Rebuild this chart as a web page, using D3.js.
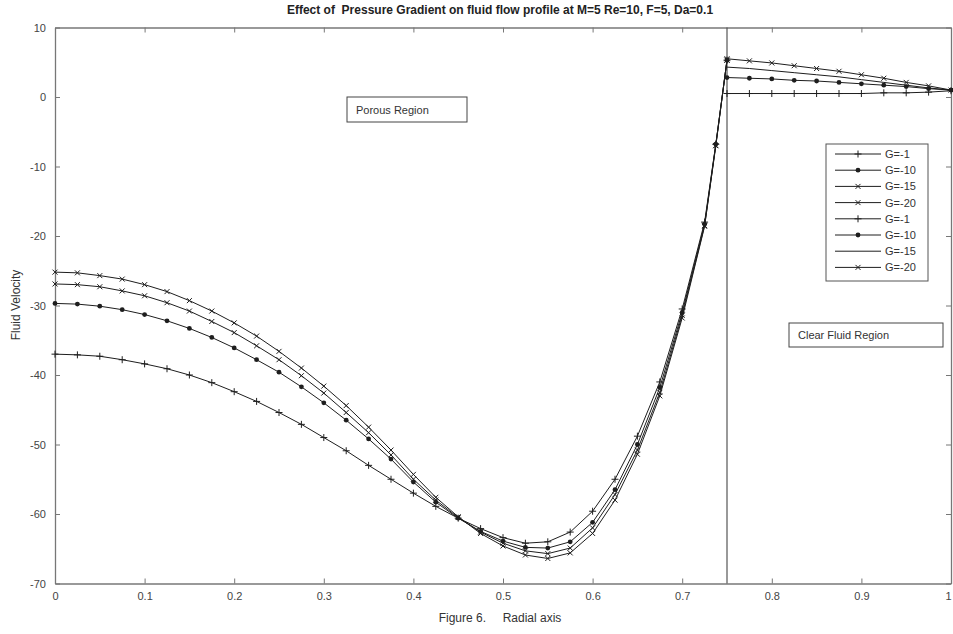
<!DOCTYPE html>
<html>
<head>
<meta charset="utf-8">
<script src="https://cdn.jsdelivr.net/npm/d3@7"></script>
<style>
  body { margin: 0; background: #fff; }
  svg { display: block; font-family: "Liberation Sans", Arial, sans-serif; }
</style>
</head>
<body>
<svg id="chart" width="953" height="634"></svg>
<script>
// porous region (0 .. 0.75)
const xPorous = [0, 0.025, 0.05, 0.075, 0.1, 0.125, 0.15, 0.175, 0.2, 0.225, 0.25, 0.275, 0.3, 0.325, 0.35, 0.375,
  0.4, 0.425, 0.45, 0.475, 0.5, 0.525, 0.55, 0.575, 0.6, 0.625, 0.65, 0.675, 0.7, 0.725, 0.7375, 0.75];
const porousG1 = [-37.0, -37.1, -37.3, -37.8, -38.4, -39.1, -40.0, -41.1, -42.4, -43.8, -45.4, -47.1, -49.0, -50.9, -53.0, -55.0,
  -57.0, -58.9, -60.6, -62.1, -63.4, -64.2, -64.0, -62.6, -59.6, -55.0, -48.8, -41.0, -30.5, -18.0, -6.8, 5.3];
const porousG10 = [-29.7, -29.8, -30.1, -30.6, -31.3, -32.2, -33.3, -34.6, -36.1, -37.8, -39.6, -41.7, -44.0, -46.5, -49.2, -52.1,
  -55.4, -58.3, -60.6, -62.5, -63.9, -64.8, -64.9, -64.0, -61.2, -56.5, -50.0, -41.8, -31.0, -18.3, -6.8, 5.3];
const porousG15 = [-26.9, -27.0, -27.3, -27.9, -28.6, -29.6, -30.8, -32.3, -33.9, -35.8, -37.8, -40.1, -42.6, -45.4, -48.3, -51.5,
  -55.0, -58.0, -60.5, -62.6, -64.2, -65.3, -65.7, -64.9, -62.0, -57.2, -50.8, -42.5, -31.4, -18.5, -7.0, 5.3];
const porousG20 = [-25.2, -25.3, -25.7, -26.2, -27.0, -28.0, -29.3, -30.8, -32.5, -34.4, -36.6, -39.0, -41.6, -44.4, -47.5, -50.8,
  -54.3, -57.6, -60.4, -62.8, -64.6, -65.9, -66.4, -65.6, -62.8, -58.0, -51.4, -43.0, -31.8, -18.6, -7.0, 5.3];

// clear fluid region (0.75 .. 1)
const xClear = [0.75, 0.775, 0.8, 0.825, 0.85, 0.875, 0.9, 0.925, 0.95, 0.975, 1];
const clearG1 = [0.5, 0.5, 0.5, 0.5, 0.5, 0.5, 0.5, 0.6, 0.6, 0.7, 0.9];
const clearG10 = [2.8, 2.7, 2.6, 2.4, 2.3, 2.1, 1.9, 1.7, 1.5, 1.2, 1.0];
const clearG15 = [4.3, 4.1, 3.8, 3.5, 3.2, 2.9, 2.5, 2.1, 1.7, 1.3, 1.0];
const clearG20 = [5.5, 5.2, 4.9, 4.5, 4.1, 3.7, 3.2, 2.7, 2.1, 1.6, 1.0];

const legendLabels = ['G=-1', 'G=-10', 'G=-15', 'G=-20', 'G=-1', 'G=-10', 'G=-15', 'G=-20'];
const xTicks = [0, 0.1, 0.2, 0.3, 0.4, 0.5, 0.6, 0.7, 0.8, 0.9, 1];
const yTicks = [-70, -60, -50, -40, -30, -20, -10, 0, 10];
const interfaceX = 0.75;

const series = [
  { xs: xPorous, ys: porousG1, marker: 'plus' },
  { xs: xPorous, ys: porousG10, marker: 'dot' },
  { xs: xPorous, ys: porousG15, marker: 'x' },
  { xs: xPorous, ys: porousG20, marker: 'x' },
  { xs: xClear, ys: clearG1, marker: 'plus' },
  { xs: xClear, ys: clearG10, marker: 'dot' },
  { xs: xClear, ys: clearG15, marker: 'none' },
  { xs: xClear, ys: clearG20, marker: 'x' }
];

const svg = d3.select('#chart');
const plotL = 55, plotR = 951, plotT = 27.5, plotB = 583.5;
const x = d3.scaleLinear().domain([0, 1]).range([plotL, plotR]);
const y = d3.scaleLinear().domain([-70, 10]).range([plotB, plotT]);
const ink = '#1e1e1e';
const axisCol = '#777';

// title
svg.append('text')
  .attr('x', 500).attr('y', 14)
  .attr('text-anchor', 'middle')
  .attr('font-size', 12).attr('font-weight', 'bold').attr('fill', '#222')
  .attr('xml:space', 'preserve')
  .text('Effect of  Pressure Gradient on fluid flow profile at M=5 Re=10, F=5, Da=0.1');

// axes, ticks pointing inward like matlab
const fmt = d => String(d);
const axB = svg.append('g').attr('transform', `translate(0,${plotB})`)
  .call(d3.axisBottom(x).tickValues(xTicks).tickFormat(fmt).tickSizeInner(-5).tickSizeOuter(0).tickPadding(9));
const axT = svg.append('g').attr('transform', `translate(0,${plotT})`)
  .call(d3.axisTop(x).tickValues(xTicks).tickFormat('').tickSizeInner(-5).tickSizeOuter(0));
const axL = svg.append('g').attr('transform', `translate(${plotL},0)`)
  .call(d3.axisLeft(y).tickValues(yTicks).tickFormat(fmt).tickSizeInner(-5).tickSizeOuter(0).tickPadding(9));
const axR = svg.append('g').attr('transform', `translate(${plotR},0)`)
  .call(d3.axisRight(y).tickValues(yTicks).tickFormat('').tickSizeInner(-5).tickSizeOuter(0));

[axB, axT, axL, axR].forEach(a => {
  a.select('.domain').attr('stroke', axisCol).attr('stroke-width', 1.3);
  a.selectAll('.tick line').attr('stroke', axisCol);
  a.selectAll('.tick text').attr('fill', '#444').attr('font-size', 11)
    .attr('font-family', '"Liberation Sans", Arial, sans-serif');
});
// last x label sits on the page edge, nudge it in
axB.selectAll('.tick text').filter(d => d === 1).attr('dx', -3);

// axis labels
svg.append('text')
  .attr('x', 500).attr('y', 622)
  .attr('text-anchor', 'middle').attr('font-size', 12).attr('fill', '#333')
  .attr('xml:space', 'preserve')
  .text('Figure 6.     Radial axis');
svg.append('text')
  .attr('transform', 'translate(20,305) rotate(-90)')
  .attr('text-anchor', 'middle').attr('font-size', 12).attr('fill', '#333')
  .text('Fluid Velocity');

// interface line
svg.append('line')
  .attr('x1', x(interfaceX)).attr('x2', x(interfaceX))
  .attr('y1', y(10)).attr('y2', y(-70))
  .attr('stroke', '#555').attr('stroke-width', 1.2);

function drawMarker(g, type, cx, cy) {
  if (type === 'plus') {
    g.append('path').attr('d', `M${cx - 3.5},${cy}H${cx + 3.5}M${cx},${cy - 3.5}V${cy + 3.5}`)
      .attr('stroke', ink).attr('stroke-width', 1);
  } else if (type === 'dot') {
    g.append('circle').attr('cx', cx).attr('cy', cy).attr('r', 2.4).attr('fill', ink);
  } else if (type === 'x') {
    g.append('path').attr('d', `M${cx - 2.5},${cy - 2.5}L${cx + 2.5},${cy + 2.5}M${cx - 2.5},${cy + 2.5}L${cx + 2.5},${cy - 2.5}`)
      .attr('stroke', ink).attr('stroke-width', 1);
  }
}

const line = d3.line().x(d => x(d[0])).y(d => y(d[1]));
const plot = svg.append('g');
series.forEach(s => {
  const pts = s.xs.map((v, i) => [v, s.ys[i]]);
  plot.append('path').datum(pts)
    .attr('d', line).attr('fill', 'none')
    .attr('stroke', ink).attr('stroke-width', 1);
  pts.forEach(p => drawMarker(plot, s.marker, x(p[0]), y(p[1])));
});

// region annotations
function boxLabel(bx, by, bw, bh, label) {
  svg.append('rect').attr('x', bx).attr('y', by).attr('width', bw).attr('height', bh)
    .attr('fill', '#fff').attr('stroke', '#444').attr('stroke-width', 1);
  svg.append('text').attr('x', bx + 9).attr('y', by + bh / 2 + 4)
    .attr('font-size', 11).attr('fill', '#333').text(label);
}
boxLabel(347, 97, 120, 25, 'Porous Region');
boxLabel(789, 323, 154, 24, 'Clear Fluid Region');

// legend
const lg = svg.append('g');
lg.append('rect').attr('x', 826).attr('y', 144).attr('width', 102).attr('height', 137)
  .attr('fill', '#fff').attr('stroke', '#555').attr('stroke-width', 1);
legendLabels.forEach((lab, i) => {
  const ly = 154 + i * 16.2;
  lg.append('line').attr('x1', 835).attr('x2', 881).attr('y1', ly).attr('y2', ly)
    .attr('stroke', ink).attr('stroke-width', 1);
  drawMarker(lg, series[i].marker, 858, ly);
  lg.append('text').attr('x', 885).attr('y', ly + 4).attr('font-size', 11).attr('fill', '#333').text(lab);
});
</script>
</body>
</html>
